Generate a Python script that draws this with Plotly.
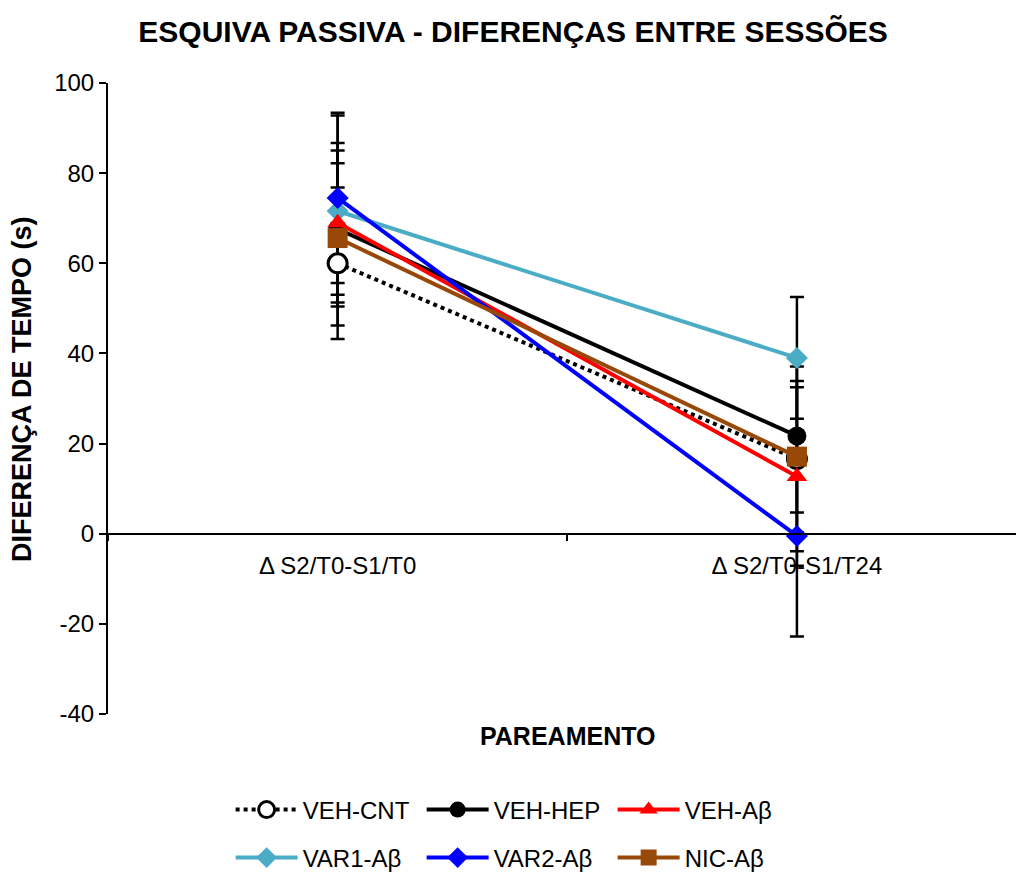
import plotly.graph_objects as go

categories = ["Δ S2/T0-S1/T0", "Δ S2/T0-S1/T24"]

series_names = ["VEH-CNT", "VEH-HEP", "VEH-Aβ", "VAR1-Aβ", "VAR2-Aβ", "NIC-Aβ"]
veh_cnt = [60.0, 16.6]
veh_cnt_err = [16.8, 20.5]
veh_hep = [67.6, 21.7]
veh_hep_err = [14.6, 17.0]
veh_ab = [69.0, 12.7]
veh_ab_err = [17.7, 19.8]
var1_ab = [71.6, 39.0]
var1_ab_err = [21.2, 13.5]
var2_ab = [74.5, -0.5]
var2_ab_err = [18.9, 22.3]
nic_ab = [65.6, 17.1]
nic_ab_err = [19.4, 16.8]

y_ticks = [-40, -20, 0, 20, 40, 60, 80, 100]
y_tick_text = ["-40", "-20", "0", "20", "40", "60", "80", "100"]

FONT = "Liberation Sans, Arial, sans-serif"

styles = {
    "VEH-CNT": dict(color="black", dash="dot", symbol="circle", size=19, mcolor="white", mline=3),
    "VEH-HEP": dict(color="black", dash="solid", symbol="circle", size=19, mcolor="black", mline=0),
    "VEH-Aβ": dict(color="#FF0000", dash="solid", symbol="triangle-up", size=18, mcolor="#FF0000", mline=0),
    "VAR1-Aβ": dict(color="#4BACC6", dash="solid", symbol="diamond", size=17, mcolor="#4BACC6", mline=0),
    "VAR2-Aβ": dict(color="#0000FF", dash="solid", symbol="diamond", size=17, mcolor="#0000FF", mline=0),
    "NIC-Aβ": dict(color="#984807", dash="solid", symbol="square", size=20, mcolor="#984807", mline=0),
}

data = {
    "VEH-CNT": (veh_cnt, veh_cnt_err),
    "VEH-HEP": (veh_hep, veh_hep_err),
    "VEH-Aβ": (veh_ab, veh_ab_err),
    "VAR1-Aβ": (var1_ab, var1_ab_err),
    "VAR2-Aβ": (var2_ab, var2_ab_err),
    "NIC-Aβ": (nic_ab, nic_ab_err),
}

fig = go.Figure()

# error bars first (below all markers)
for name in series_names:
    vals, errs = data[name]
    fig.add_trace(go.Scatter(
        x=categories, y=vals, mode="markers",
        marker=dict(size=1, opacity=0),
        error_y=dict(type="data", array=errs, visible=True, color="black", thickness=2.5, width=7),
        showlegend=False, hoverinfo="skip",
    ))

draw_order = ["VEH-CNT", "VAR1-Aβ", "VEH-HEP", "VEH-Aβ", "VAR2-Aβ", "NIC-Aβ"]
row1 = ["VEH-CNT", "VEH-HEP", "VEH-Aβ"]
for name in draw_order:
    vals, _ = data[name]
    s = styles[name]
    fig.add_trace(go.Scatter(
        x=categories, y=vals, mode="lines+markers", name=name,
        line=dict(color=s["color"], width=4, dash=s["dash"]),
        marker=dict(symbol=s["symbol"], size=s["size"], color=s["mcolor"],
                    line=dict(color="black", width=s["mline"])),
        legend="legend" if name in row1 else "legend2",
        cliponaxis=False,
    ))

legend_common = dict(orientation="h", xref="container", yref="container",
                     xanchor="left", yanchor="middle", itemwidth=62,
                     entrywidth=114, entrywidthmode="pixels", font=dict(size=24),
                     bgcolor="rgba(0,0,0,0)")

fig.update_layout(
    width=1016, height=873,
    paper_bgcolor="white", plot_bgcolor="white",
    margin=dict(l=108, r=0, t=83, b=159),
    font=dict(family=FONT, size=24, color="black"),
    title=dict(text="<b>ESQUIVA PASSIVA - DIFERENÇAS ENTRE SESSÕES</b>",
               x=0.505, xref="container", xanchor="center",
               y=1 - 31 / 873, yref="container", yanchor="middle",
               font=dict(family=FONT, size=30, color="black")),
    xaxis=dict(type="category", range=[-0.5, 1.477], anchor="free", position=40 / 140,
               showline=True, linecolor="black", linewidth=2,
               ticks="outside", tickson="boundaries", ticklen=6, tickwidth=2, tickcolor="black",
               ticklabelstandoff=10,
               showgrid=False, zeroline=False, tickfont=dict(size=24)),
    yaxis=dict(range=[-40, 100], tickvals=y_ticks, ticktext=y_tick_text,
               showline=True, linecolor="black", linewidth=2,
               ticks="outside", ticklen=7, tickwidth=2, tickcolor="black",
               showgrid=False, zeroline=False, tickfont=dict(size=24)),
    legend=dict(legend_common, x=0.227, y=1 - 810 / 873),
    legend2=dict(legend_common, x=0.227, y=1 - 858 / 873),
    annotations=[
        dict(text="<b>PAREAMENTO</b>", xref="paper", yref="paper",
             x=(567 - 108) / 908, y=(714 - 736) / 631, xanchor="center", yanchor="middle",
             showarrow=False, font=dict(size=25)),
        dict(text="<b>DIFERENÇA DE TEMPO (s)</b>", xref="paper", yref="paper",
             x=(22 - 108) / 908, y=(714 - 389) / 631, xanchor="center", yanchor="middle",
             textangle=-90, showarrow=False, font=dict(size=27)),
    ],
)

fig.write_html("out.html")
